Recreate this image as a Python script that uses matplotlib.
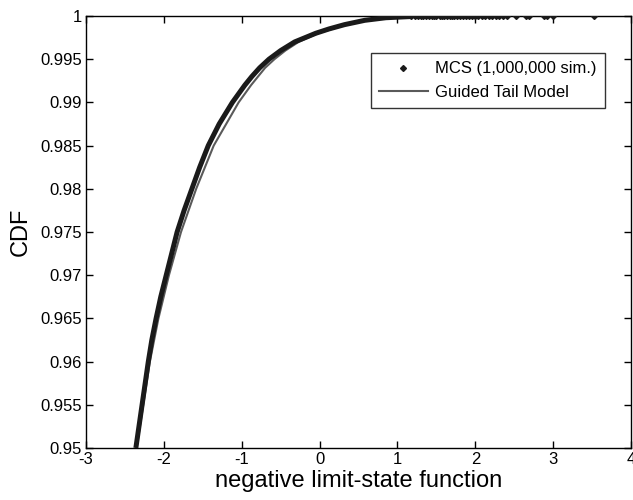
import matplotlib
matplotlib.use("Agg")
import matplotlib.pyplot as plt

plt.rcParams["font.family"] = ["Liberation Sans", "DejaVu Sans"]

mcs_cdf = [0.950, 0.9525, 0.955, 0.9575, 0.960, 0.9625, 0.965, 0.9675,
           0.970, 0.9725, 0.975, 0.9775, 0.980, 0.9825, 0.985, 0.9875,
           0.990, 0.991, 0.992, 0.993, 0.994, 0.995, 0.996, 0.997,
           0.998, 0.9985, 0.999, 0.9995, 0.9998, 0.99995]
mcs_x = [-2.36, -2.32, -2.28, -2.24, -2.20, -2.155, -2.10, -2.04,
         -1.97, -1.90, -1.83, -1.74, -1.64, -1.54, -1.43, -1.29,
         -1.12, -1.04, -0.96, -0.87, -0.77, -0.65, -0.50, -0.32,
         -0.05, 0.12, 0.32, 0.58, 0.85, 1.20]

# MCS largest samples, visible as separate dots along the top
tail_x = [1.18, 1.22, 1.26, 1.30, 1.33, 1.37, 1.40, 1.44, 1.47, 1.50,
          1.54, 1.57, 1.60, 1.63, 1.67, 1.70, 1.73, 1.77, 1.80, 1.84,
          1.88, 1.92, 1.96, 2.00, 2.04, 2.08, 2.12, 2.17, 2.21, 2.26,
          2.31, 2.36, 2.41, 2.52, 2.65, 2.69, 2.88, 2.92, 3.00, 3.52]
tail_cdf = [0.99996, 0.99996, 0.99996, 0.99997, 0.99997, 0.99997, 0.99997, 0.99998, 0.99998, 0.99998,
            0.99998, 0.99998, 0.99998, 0.99998, 0.99999, 0.99999, 0.99999, 0.99999, 0.99999, 0.99999,
            0.99999, 0.99999, 0.99999, 0.99999, 0.99999, 0.99999, 0.99999, 1.0, 1.0, 1.0,
            1.0, 1.0, 1.0, 1.0, 1.0, 1.0, 1.0, 1.0, 1.0, 1.0]

# Guided tail model CDF
gtm_cdf = [0.950, 0.955, 0.960, 0.965, 0.970, 0.975, 0.980, 0.985,
           0.990, 0.992, 0.994, 0.995, 0.996, 0.997, 0.998, 0.999,
           0.9995, 0.9998, 0.99995, 1.0, 1.0]
gtm_x = [-2.35, -2.265, -2.18, -2.07, -1.935, -1.78, -1.585, -1.36,
         -1.04, -0.88, -0.70, -0.58, -0.44, -0.27, -0.02, 0.34,
         0.60, 0.88, 1.30, 2.50, 4.00]

x_ticks = [-3, -2, -1, 0, 1, 2, 3, 4]
y_ticks = [0.95, 0.955, 0.96, 0.965, 0.97, 0.975, 0.98, 0.985, 0.99, 0.995, 1.0]
y_tick_labels = ["0.95", "0.955", "0.96", "0.965", "0.97", "0.975",
                 "0.98", "0.985", "0.99", "0.995", "1"]

fig = plt.figure(figsize=(6.33, 5), dpi=100)
ax = fig.add_axes([0.1359, 0.104, 0.861, 0.864])

ax.plot(gtm_x, gtm_cdf, color="#5a5a5a", lw=1.5, zorder=2,
        label="Guided Tail Model")
ax.plot(mcs_x, mcs_cdf, color="#1a1a1a", lw=3.6, zorder=3,
        solid_capstyle="butt", solid_joinstyle="round", label="_nolegend_")
ax.plot(tail_x, tail_cdf, linestyle="none", marker="D",
        markersize=3, color="#1a1a1a", zorder=4,
        label="MCS (1,000,000 sim.)")

ax.set_xlim(-3, 4)
ax.set_ylim(0.95, 1.0)
ax.set_xticks(x_ticks)
ax.set_xticklabels([str(t) for t in x_ticks])
ax.set_yticks(y_ticks)
ax.set_yticklabels(y_tick_labels)
ax.tick_params(direction="in", length=5, width=1, top=True, right=True,
               labelsize=12, pad=3)
for s in ax.spines.values():
    s.set_linewidth(1.0)

ax.set_xlabel("negative limit-state function", fontsize=17, labelpad=2)
ax.set_ylabel("CDF", fontsize=17, labelpad=6)

handles, labels = ax.get_legend_handles_labels()
order = [labels.index("MCS (1,000,000 sim.)"), labels.index("Guided Tail Model")]
leg = ax.legend([handles[i] for i in order], [labels[i] for i in order],
                loc="upper right", bbox_to_anchor=(0.952, 0.914),
                fontsize=12, frameon=True, fancybox=False, edgecolor="black",
                handlelength=2.9, handletextpad=0.45, labelspacing=0.5,
                borderpad=0.5, borderaxespad=0)
leg.get_frame().set_linewidth(1.0)

fig.savefig("out.png", dpi=100)
